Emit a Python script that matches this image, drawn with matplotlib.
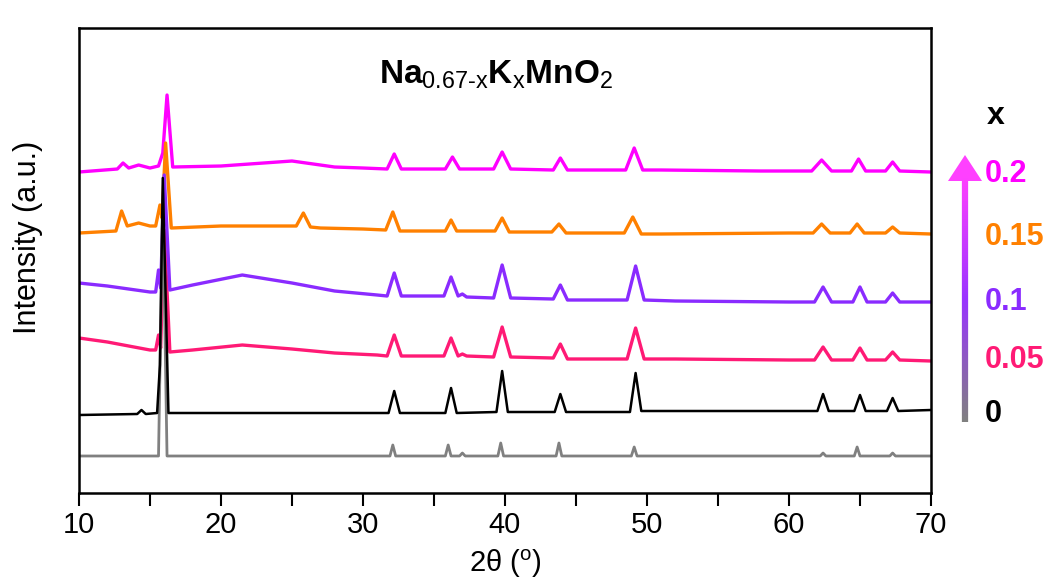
import matplotlib
matplotlib.use('Agg')
import matplotlib.pyplot as plt
import numpy as np
from matplotlib.collections import LineCollection
from matplotlib.colors import LinearSegmentedColormap
from matplotlib.ticker import MultipleLocator

plt.rcParams['font.family'] = ['Liberation Sans', 'DejaVu Sans']
plt.rcParams['mathtext.fontset'] = 'custom'
plt.rcParams['mathtext.rm'] = 'Liberation Sans'
plt.rcParams['mathtext.bf'] = 'Liberation Sans:bold'

# 2theta / intensity (a.u., stacked)
# x = 0 (gray)
tt_0 = [10, 15.6, 15.9, 16.2, 31.9, 32.1, 32.3, 35.8, 36.0, 36.2, 36.8, 37.0, 37.2,
        39.5, 39.7, 39.9, 43.6, 43.8, 44.0, 48.9, 49.1, 49.3, 62.2, 62.4, 62.6,
        64.6, 64.8, 65.0, 67.1, 67.3, 67.5, 70]
int_0 = [37, 37, 293, 37, 37, 48, 37, 37, 48, 37, 37, 40, 37,
         37, 50, 37, 37, 50, 37, 37, 46, 37, 37, 40, 37,
         37, 46, 37, 37, 40, 37, 37]

# x = 0 (black)
tt_0b = [10, 14.1, 14.4, 14.7, 15.5, 15.7, 15.9, 16.3, 31.8, 32.2, 32.6, 35.8, 36.2, 36.6,
         39.4, 39.8, 40.2, 43.5, 43.9, 44.3, 48.8, 49.2, 49.6, 62.0, 62.4, 62.8,
         64.6, 65.0, 65.4, 66.9, 67.3, 67.7, 70]
int_0b = [78, 79, 83, 79, 80, 128, 315, 80, 80, 102, 80, 80, 105, 80,
          81, 122, 81, 81, 99, 81, 81, 120, 82, 82, 99, 82,
          82, 98, 82, 82, 95, 82, 83]

# x = 0.05 (pink)
tt_005 = [10, 12, 15, 15.4, 15.6, 15.75, 16.0, 16.4, 18, 21.5, 25, 28, 31,
          31.7, 32.2, 32.7, 35.7, 36.2, 36.7, 37.0, 37.3, 39.2, 39.8, 40.4,
          43.4, 43.9, 44.4, 48.6, 49.2, 49.8, 52, 60, 61.8, 62.4, 63.0,
          64.5, 65.0, 65.5, 66.8, 67.3, 67.8, 70]
int_005 = [155, 151, 143, 143, 158, 145, 263, 141, 143, 148, 144, 140, 138,
           137, 158, 137, 137, 155, 137, 139, 137, 136, 166, 136,
           135, 149, 134, 134, 165, 134, 134, 133, 133, 146, 133,
           133, 145, 133, 133, 141, 133, 132]

# x = 0.1 (purple)
tt_01 = [10, 12, 15, 15.4, 15.6, 15.75, 16.0, 16.4, 18, 21.5, 25, 28, 31,
         31.7, 32.2, 32.7, 35.7, 36.2, 36.7, 37.0, 37.3, 39.2, 39.8, 40.4,
         43.4, 43.9, 44.4, 48.6, 49.2, 49.8, 52, 60, 61.8, 62.4, 63.0,
         64.5, 65.0, 65.5, 66.8, 67.3, 67.8, 70]
int_01 = [210, 207, 201, 201, 223, 205, 318, 203, 208, 218, 210, 202, 198,
          197, 220, 197, 197, 216, 197, 199, 196, 195, 228, 195,
          194, 208, 193, 193, 227, 193, 192, 191, 191, 206, 191,
          191, 206, 191, 191, 200, 191, 191]

# x = 0.15 (orange)
tt_015 = [10, 12.6, 13.0, 13.4, 14.2, 15.0, 15.4, 15.7, 15.85, 16.1, 16.5, 20, 24,
          25.3, 25.8, 26.3, 27, 30, 31.6, 32.1, 32.6, 35.8, 36.2, 36.6,
          39.3, 39.8, 40.3, 43.3, 43.8, 44.3, 46, 48.4, 49.0, 49.6, 51, 60,
          61.7, 62.3, 62.9, 64.3, 64.8, 65.3, 66.8, 67.3, 67.8, 70]
int_015 = [260, 262, 282, 267, 270, 267, 267, 288, 275, 350, 265, 267, 267,
           267, 280, 266, 265, 264, 263, 281, 262, 262, 273, 262,
           262, 275, 261, 261, 269, 260, 260, 260, 276, 259, 259, 260,
           260, 269, 260, 260, 269, 260, 260, 266, 260, 259]

# x = 0.2 (magenta)
tt_02 = [10, 12.7, 13.1, 13.5, 14.2, 15.0, 15.6, 15.9, 16.2, 16.6, 20, 25, 28, 30,
         31.7, 32.2, 32.7, 35.8, 36.3, 36.8, 39.2, 39.8, 40.4, 43.4, 43.9, 44.4, 46,
         48.5, 49.1, 49.7, 51, 58, 61.6, 62.3, 63.0, 64.4, 64.9, 65.4,
         66.8, 67.3, 67.8, 70]
int_02 = [321, 324, 330, 325, 328, 325, 327, 340, 398, 326, 327, 332, 326, 325,
          324, 339, 324, 324, 336, 324, 324, 341, 324, 323, 335, 323, 323,
          323, 345, 323, 323, 322, 322, 333, 322, 322, 334, 322,
          322, 331, 322, 321]

x_labels = ['0', '0.05', '0.1', '0.15', '0.2']
label_colors = ['black', '#FF1A75', '#8A2BFF', '#FF8000', '#FF00FF']

fig = plt.figure(figsize=(10.59, 5.86), dpi=100)
ax = fig.add_axes([0.0746, 0.1587, 0.8045, 0.7935])

ax.plot(tt_02, int_02, color='#FF00FF', lw=2.4)
ax.plot(tt_015, int_015, color='#FF8000', lw=2.4)
ax.plot(tt_005, int_005, color='#FF1A75', lw=2.4)
ax.plot(tt_01, int_01, color='#8A2BFF', lw=2.4)
ax.plot(tt_0, int_0, color='#808080', lw=2)
ax.plot(tt_0b, int_0b, color='black', lw=1.8)

ax.set_xlim(10, 70)
ax.set_ylim(0, 465)
ax.set_yticks([])
ax.xaxis.set_major_locator(MultipleLocator(10))
ax.xaxis.set_minor_locator(MultipleLocator(5))
ax.tick_params(axis='x', which='both', direction='out', length=9, width=1.5)
ax.tick_params(axis='x', labelsize=21, pad=4)
for s in ax.spines.values():
    s.set_linewidth(1.8)

ax.set_xlabel('2θ ($^\\mathregular{o}$)', fontsize=21, labelpad=6)
ax.set_ylabel('Intensity (a.u.)', fontsize=22)
ax.yaxis.set_label_coords(-0.042, 0.55)

ax.text(0.49, 0.9, r'$\mathbf{Na}_{\mathrm{0.67\text{-}x}}\mathbf{K}_{\mathrm{x}}\mathbf{MnO}_{\mathrm{2}}$',
        transform=ax.transAxes, ha='center', va='center', fontsize=24)

# right-hand x legend with gradient arrow (figure pixel coordinates)
ov = fig.add_axes([0, 0, 1, 1], facecolor='none')
ov.set_xlim(0, 1059)
ov.set_ylim(586, 0)
ov.axis('off')

ov.text(996, 116, 'x', fontsize=23, fontweight='bold', ha='center', va='center')
label_y = [414, 360, 302, 237, 174]
for lab, c, yy in zip(x_labels, label_colors, label_y):
    ov.text(985, yy, lab, color=c, fontsize=22, fontweight='bold', ha='left', va='center')

cmap = LinearSegmentedColormap.from_list('arr', ['#808080', '#9933FF', '#FF40FF'])
ys = np.linspace(422, 176, 120)
segs = [[(965, ys[i]), (965, ys[i + 1])] for i in range(len(ys) - 1)]
lc = LineCollection(segs, colors=cmap(np.linspace(0, 1, len(segs))), linewidths=4.5,
                    capstyle='butt')
ov.add_collection(lc)
ov.add_patch(plt.Polygon([[948, 181], [982, 181], [965, 155]], closed=True,
                         color='#FF40FF', lw=0))

fig.savefig('out.png', dpi=100)
